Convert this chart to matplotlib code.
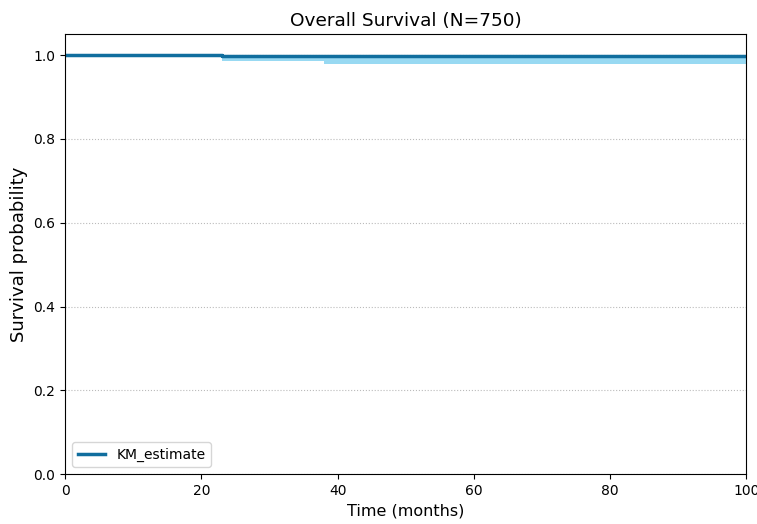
import matplotlib
matplotlib.use("Agg")
import matplotlib.pyplot as plt

# Kaplan-Meier estimate (step function, months)
times = [0, 23, 38, 100]
km_estimate = [1.0, 0.9987, 0.9973, 0.9973]
ci_lower = [1.0, 0.986, 0.979, 0.979]
ci_upper = [1.0, 0.9999, 0.9995, 0.9995]
yticks = [0.0, 0.2, 0.4, 0.6, 0.8, 1.0]

fig = plt.figure(figsize=(7.57, 5.24), dpi=100)
ax = fig.add_axes([0.086, 0.095, 0.9, 0.84])

ax.fill_between(times, ci_lower, ci_upper, step="post", color="#7fd0ef", alpha=0.8, lw=0)
ax.step(times, km_estimate, where="post", color="#106e9e", lw=2.5, label="KM_estimate")

ax.set_xlim(0, 100)
ax.set_ylim(0, 1.05)
ax.set_yticks(yticks)
ax.grid(axis="y", linestyle=":", color="#bbbbbb", lw=0.8)
ax.set_title("Overall Survival (N=750)", fontsize=13.3)
ax.set_xlabel("Time (months)", fontsize=11.5)
ax.set_ylabel("Survival probability", fontsize=13)
ax.tick_params(labelsize=10)
ax.legend(loc="lower left", fontsize=10)

fig.savefig("out.png", dpi=100)
